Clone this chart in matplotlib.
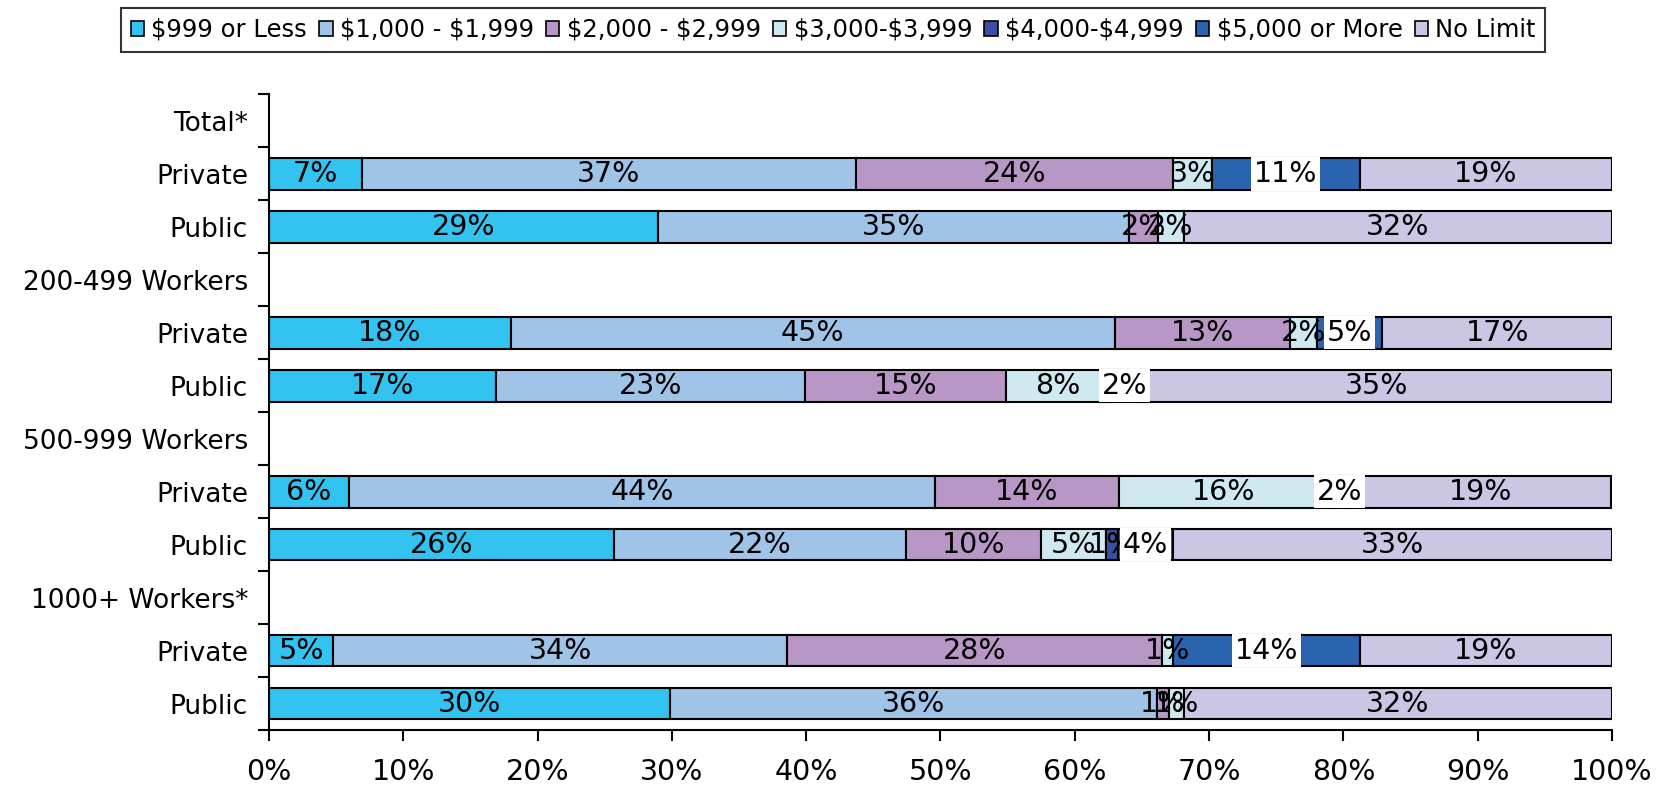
import numpy as np
import matplotlib.pyplot as plt
from matplotlib.patches import Patch

# -----------------------------
# Data (percent of employers, by out-of-pocket maximum)
# -----------------------------
rows = ["Total*", "Private", "Public",
        "200-499 Workers", "Private", "Public",
        "500-999 Workers", "Private", "Public",
        "1000+ Workers*", "Private", "Public"]

series_names = ["$999 or Less", "$1,000 - $1,999", "$2,000 - $2,999", "$3,000-$3,999",
                "$4,000-$4,999", "$5,000 or More", "No Limit"]

under_1000 = [0, 6.9, 29.0, 0, 18.0, 16.9, 0, 6.0, 25.7, 0, 4.8, 29.9]
r1000_1999 = [0, 36.8, 35.0, 0, 45.0, 23.0, 0, 43.6, 21.7, 0, 33.8, 36.2]
r2000_2999 = [0, 23.6, 2.2, 0, 13.0, 15.0, 0, 13.7, 10.1, 0, 27.9, 0.9]
r3000_3999 = [0, 2.9, 1.9, 0, 2.0, 7.6, 0, 15.6, 4.8, 0, 0.8, 1.1]
r4000_4999 = [0, 0, 0, 0, 0, 0, 0, 0, 0.9, 0, 0, 0]
r5000_plus = [0, 11.0, 0, 0, 4.9, 2.4, 0, 1.6, 4.1, 0, 13.9, 0]
no_limit = [0, 18.8, 31.9, 0, 17.1, 35.1, 0, 19.4, 32.7, 0, 18.8, 31.9]

colors = ["#33c3f0", "#9fc4e8", "#b896c6", "#ceeaf0", "#3c4fa2", "#2a63ae", "#cac6e4"]

# -----------------------------
# Plot
# -----------------------------
plt.rcParams['font.family'] = ['DejaVu Sans']
fs_num = 20.5
fs_lab = 19

fig = plt.figure(figsize=(16.73, 7.85), dpi=100)
ax = fig.add_axes([0.1607, 0.070, 0.8029, 0.810])

all_series = [under_1000, r1000_1999, r2000_2999, r3000_3999, r4000_4999, r5000_plus, no_limit]
y = np.arange(len(rows))
left = np.zeros(len(rows))

for k, (vals, color) in enumerate(zip(all_series, colors)):
    vals = np.array(vals, dtype=float)
    idx = np.where(vals > 0)[0]
    ax.barh(y[idx], vals[idx], left=left[idx], height=0.6, color=color,
            edgecolor="black", linewidth=1.5, zorder=2)
    for i in idx:
        cx = left[i] + vals[i] / 2
        kw = {}
        if series_names[k] == "$5,000 or More":
            # these labels sit on a white box, as in the original
            kw["bbox"] = dict(facecolor="white", edgecolor="none", pad=2)
        ax.text(cx, y[i], f"{vals[i]:.0f}%", ha="center", va="center",
                fontsize=fs_num, color="black", zorder=3, **kw)
    left += vals

ax.set_xlim(0, 100)
ax.set_ylim(len(rows) - 0.5, -0.5)

# x axis
ax.set_xticks(np.arange(0, 101, 10))
ax.set_xticklabels([f"{t}%" for t in range(0, 101, 10)], fontsize=fs_num)
ax.tick_params(axis="x", direction="out", length=8, width=1.5, pad=12)

# y axis: labels at row centres, tick marks between rows
ax.set_yticks(y)
ax.set_yticklabels(rows, fontsize=fs_lab)
ax.tick_params(axis="y", which="major", length=0, pad=15)
ax.set_yticks(np.arange(-0.5, len(rows), 1), minor=True)
ax.tick_params(axis="y", which="minor", direction="out", length=8, width=1.5)

for side in ["top", "right"]:
    ax.spines[side].set_visible(False)
for side in ["left", "bottom"]:
    ax.spines[side].set_linewidth(1.5)

handles = [Patch(facecolor=c, edgecolor="black", linewidth=1.2) for c in colors]
legend_labels = [s.replace("$", r"\$") for s in series_names]
leg = fig.legend(handles, legend_labels, loc="center", bbox_to_anchor=(0.498, 0.962),
                 ncol=7, fontsize=17.5, frameon=True, fancybox=False,
                 handlelength=0.55, handleheight=0.55, handletextpad=0.3,
                 columnspacing=0.5, borderpad=0.4, borderaxespad=0)
leg.get_frame().set_edgecolor("black")
leg.get_frame().set_linewidth(1.5)

fig.savefig("out.png", dpi=100)
